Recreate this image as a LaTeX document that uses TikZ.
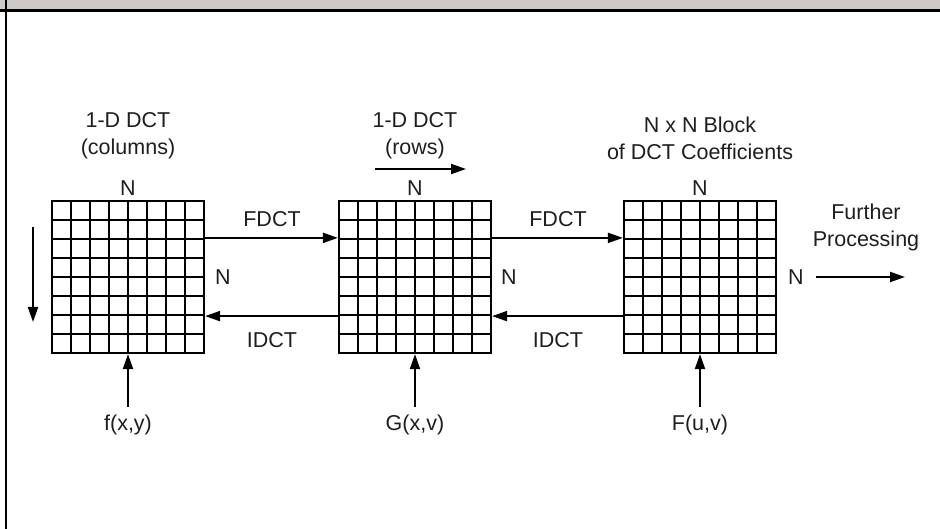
\documentclass[tikz,border=0pt]{standalone}
\usepackage{fontspec}
\setmainfont{Liberation Sans}
\usetikzlibrary{arrows.meta}
\definecolor{headgray}{RGB}{205,201,200}
\definecolor{txt}{RGB}{30,30,30}
\begin{document}
\begin{tikzpicture}[x=1pt,y=-1pt,
  font=\fontsize{21.5}{27}\selectfont,
  arr/.style={line width=2pt,-{Triangle[length=15pt,width=10pt]}},
  gridbox/.style={draw,line width=2.2pt,minimum size=152pt,inner sep=0pt,
    path picture={
      \foreach \i in {1,...,7}{
        \draw[line width=2.2pt] ([xshift=\i*19pt]path picture bounding box.north west) -- ([xshift=\i*19pt]path picture bounding box.south west);
        \draw[line width=2.2pt] ([yshift=-\i*19pt]path picture bounding box.north west) -- ([yshift=-\i*19pt]path picture bounding box.north east);
      }}},
  lbl/.style={inner sep=0pt,align=center,text=txt}]
\useasboundingbox (0,0) rectangle (940,529);
% header
\fill[headgray] (0,0) rectangle (940,10.5);
\draw[line width=3pt] (0,10.5) -- (940,10.5);
\draw[line width=2.5pt] (6,0) -- (6,529);
% grids
\node[gridbox] (g1) at (128,277) {};
\node[gridbox] (g2) at (415,277) {};
\node[gridbox] (g3) at (700,277) {};
% titles
\node[lbl] (t1) at (128,136) {1-D DCT\\(columns)};
\node[lbl] (t2) at (415,136) {1-D DCT\\(rows)};
\node[lbl] (t3) at (700,138) {N x N Block\\of DCT Coefficients};
\node[lbl] (n1) at (128,188) {N};
\node[lbl] (n2) at (415,188) {N};
\node[lbl] (n3) at (700,188) {N};
% direction arrows
\coordinate (ca) at (33,227);
\coordinate (cb) at (33,322);
\draw[arr] (ca) -- (cb);
\coordinate (ra) at (375,169);
\coordinate (rb) at (466,169);
\draw[arr] (ra) -- (rb);
% FDCT / IDCT
\draw[arr] ([yshift=-38pt]g1.north east) -- ([yshift=-38pt]g2.north west);
\draw[arr] ([yshift=-38pt]g2.north east) -- ([yshift=-38pt]g3.north west);
\draw[arr] ([yshift=38pt]g2.south west) -- ([yshift=38pt]g1.south east);
\draw[arr] ([yshift=38pt]g3.south west) -- ([yshift=38pt]g2.south east);
\node[lbl] (f1) at (272,219) {FDCT};
\node[lbl] (f2) at (558,219) {FDCT};
\node[lbl] (i1) at (272,340) {IDCT};
\node[lbl] (i2) at (558,340) {IDCT};
\node[lbl] (m1) at (223,277) {N};
\node[lbl] (m2) at (509,277) {N};
\node[lbl] (m3) at (796,277) {N};
% further processing
\node[lbl] (fp) at (866,227) {Further\\Processing};
\coordinate (pa) at (816,277);
\coordinate (pb) at (905,277);
\draw[arr] (pa) -- (pb);
% inputs
\node[lbl] (x1) at (128,425) {f(x,y)};
\node[lbl] (x2) at (415,425) {G(x,v)};
\node[lbl] (x3) at (700,425) {F(u,v)};
\draw[arr] ([yshift=8pt]x1.north) -- (g1.south);
\draw[arr] ([yshift=8pt]x2.north) -- (g2.south);
\draw[arr] ([yshift=8pt]x3.north) -- (g3.south);
\end{tikzpicture}
\end{document}
